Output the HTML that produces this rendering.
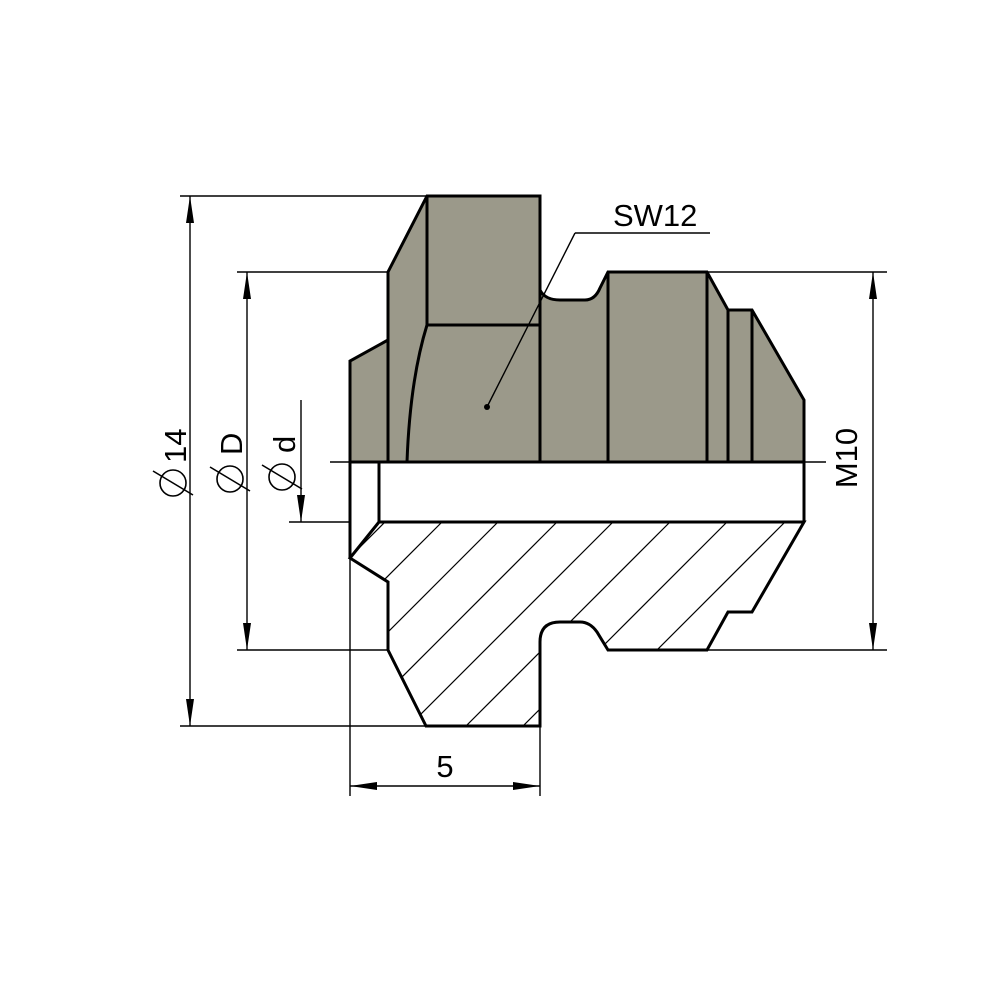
<!DOCTYPE html>
<html><head><meta charset="utf-8"><style>html,body{margin:0;padding:0;background:#fff}svg{display:block}</style></head>
<body>
<svg width="1000" height="1000" viewBox="0 0 1000 1000" xmlns="http://www.w3.org/2000/svg">
<defs>
<clipPath id="hc"><path d="M379,522 L804,522 L752,612 L728,612 L707,650 L608,650 L597,632 Q590,622 580,622 L560,622 Q540,622 540,642 L540,726 L426,726 L388,650 L388,582 L350,558 Z"/></clipPath>
</defs>
<g fill="none" stroke="#000" stroke-width="1.4">
<line x1="180" y1="196" x2="427" y2="196"/>
<line x1="180" y1="726" x2="426" y2="726"/>
<line x1="237" y1="272" x2="388" y2="272"/>
<line x1="237" y1="650" x2="388" y2="650"/>
<line x1="707" y1="272" x2="887" y2="272"/>
<line x1="707" y1="650" x2="887" y2="650"/>
<line x1="289" y1="522" x2="350" y2="522"/>
<line x1="350" y1="558" x2="350" y2="796"/>
<line x1="540" y1="726" x2="540" y2="796"/>
<line x1="190" y1="196" x2="190" y2="726"/>
<line x1="247" y1="272" x2="247" y2="650"/>
<line x1="301" y1="400" x2="301" y2="522"/>
<line x1="873" y1="272" x2="873" y2="650"/>
<line x1="350" y1="786" x2="540" y2="786"/>
</g>
<g fill="#000">
<path d="M190,196 l-4,27 h8 z M190,726 l-4,-27 h8 z"/>
<path d="M247,272 l-4,27 h8 z M247,650 l-4,-27 h8 z"/>
<path d="M301,522 l-4,-27 h8 z"/>
<path d="M873,272 l-4,27 h8 z M873,650 l-4,-27 h8 z"/>
<path d="M350,786 l27,-4 v8 z M540,786 l-27,-4 v8 z"/>
</g>
<g fill="#9b998a" stroke="#000" stroke-width="3">
<path d="M350,462 L350,361 L388,340 L388,272 L427,196 L540,196 L540,290 Q545,300 560,300 L585,300 Q595,300 600,288 L608,272 L707,272 L728,310 L752,310 L804,400 L804,462 Z"/>
</g>
<g fill="none" stroke="#000" stroke-width="3">
<line x1="388" y1="340" x2="388" y2="462"/>
<line x1="427" y1="196" x2="427" y2="325"/>
<line x1="427" y1="325" x2="540" y2="325"/>
<path d="M427,325 Q410,380 407,462"/>
<line x1="540" y1="290" x2="540" y2="462"/>
<line x1="608" y1="272" x2="608" y2="462"/>
<line x1="707" y1="272" x2="707" y2="462"/>
<line x1="728" y1="310" x2="728" y2="462"/>
<line x1="752" y1="310" x2="752" y2="462"/>
<path d="M350,462 L350,558 M379,462 L379,522 M804,462 L804,522 M350,462 L804,462"/>
</g>
<line x1="330" y1="462" x2="826" y2="462" stroke="#000" stroke-width="1.4"/>
<g clip-path="url(#hc)" stroke="#000" stroke-width="1.2">
<line x1="385" y1="522" x2="155" y2="752"/>
<line x1="442" y1="522" x2="212" y2="752"/>
<line x1="498" y1="522" x2="268" y2="752"/>
<line x1="557" y1="522" x2="327" y2="752"/>
<line x1="613" y1="522" x2="383" y2="752"/>
<line x1="670" y1="522" x2="440" y2="752"/>
<line x1="727" y1="522" x2="497" y2="752"/>
<line x1="785" y1="522" x2="555" y2="752"/>
<line x1="842" y1="522" x2="612" y2="752"/>
</g>
<path d="M379,522 L804,522 L752,612 L728,612 L707,650 L608,650 L597,632 Q590,622 580,622 L560,622 Q540,622 540,642 L540,726 L426,726 L388,650 L388,582 L350,558 L379,522" fill="none" stroke="#000" stroke-width="3"/>
<g fill="none" stroke="#000" stroke-width="1.4">
<line x1="575" y1="233" x2="710" y2="233"/>
<line x1="575" y1="233" x2="487" y2="407"/>
</g>
<circle cx="487" cy="407" r="3" fill="#000"/>
<g fill="none" stroke="#000" stroke-width="1.6">
<circle cx="173" cy="483" r="13"/><line x1="153" y1="471" x2="193" y2="495"/>
<circle cx="230" cy="479" r="13"/><line x1="210" y1="467" x2="250" y2="491"/>
<circle cx="282" cy="477" r="13"/><line x1="262" y1="465" x2="302" y2="489"/>
</g>
<g font-family="Liberation Sans, sans-serif" font-size="31" fill="#000">
<text transform="translate(186,463) rotate(-90)">14</text>
<text transform="translate(242,455) rotate(-90)">D</text>
<text transform="translate(295,453) rotate(-90)">d</text>
<text transform="translate(857,458) rotate(-90)" text-anchor="middle">M10</text>
<text x="445" y="777" text-anchor="middle">5</text>
<text x="613" y="226">SW12</text>
</g>
</svg>
</body></html>
